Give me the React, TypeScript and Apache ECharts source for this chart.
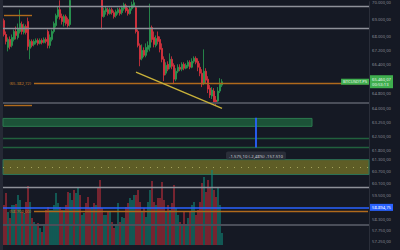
import React, { useEffect, useRef } from "react";
import * as echarts from "echarts";

// ---- data ----
const opens = [
  68915, 68114, 67378, 67830, 67491, 67830, 68285, 67943, 68285, 68686,
  68228, 68571, 68858, 67322, 67717, 67547, 67660, 67773, 67604, 67773,
  67660, 67830, 68285, 67491, 67830, 68285, 68628, 69146, 69551, 69146,
  68800, 69146, 68973, 68686, 70100, 70450, 70300, 70650, 70900, 70700,
  70850, 71150, 70950, 70750, 70600, 70800, 70550, 70700, 70400, 70250,
  69146, 69435, 69551, 69319, 69551, 69377, 69204, 69377, 69551, 69377,
  69610, 69784, 69551, 69319, 69610, 69784, 69668, 68285, 67491, 66762,
  67209, 66929, 67266, 67378, 68513, 67943, 67491, 68000, 67830, 67322,
  66706, 65930, 66428, 66262, 66706, 66373, 65601, 66040, 66262, 66151,
  66428, 66207, 66317, 66539, 66262, 66595, 66762, 66595, 66262, 65930,
  65382, 66040, 65601, 65109, 64675, 64946, 64460, 64406, 64946, 65273,
];
const closes = [
  68114, 67717, 67830, 67434, 67943, 68285, 68057, 68456, 68743, 68285,
  68571, 68228, 67434, 67717, 67491, 67717, 67773, 67604, 67773, 67660,
  67830, 67717, 67491, 67943, 68285, 68743, 69204, 69551, 69088, 68858,
  69146, 68743, 68628, 70100, 70450, 70300, 70650, 70900, 70700, 70850,
  71150, 70950, 70750, 70600, 70800, 70550, 70700, 70400, 70250, 69146,
  69493, 69610, 69319, 69551, 69377, 69146, 69435, 69551, 69319, 69668,
  69843, 69493, 69319, 69610, 69843, 69960, 68285, 67491, 66706, 67209,
  66929, 67378, 67491, 68513, 67830, 67547, 67887, 67717, 67266, 66706,
  65820, 66373, 66151, 66706, 66317, 65601, 66040, 66262, 66151, 66428,
  66207, 66373, 66539, 66262, 66595, 66762, 66539, 66262, 65930, 65327,
  66040, 65546, 65055, 64730, 65001, 64352, 64352, 64946, 65327, 65460.07,
];
const lows = [
  68000, 67547, 67153, 67266, 67378, 67717, 67830, 67830, 68171, 68114,
  68114, 68114, 67209, 66706, 67378, 67434, 67547, 67491, 67547, 67547,
  67604, 67604, 67322, 67322, 67717, 68171, 68513, 69031, 68973, 68686,
  68571, 68628, 68513, 68571, 70060, 70200, 70250, 70550, 70600, 70600,
  70800, 70850, 70650, 70450, 70500, 70400, 70450, 70300, 70100, 68399,
  69088, 69262, 69204, 69262, 69262, 69031, 69088, 69262, 69204, 69262,
  69493, 69377, 69204, 69262, 69493, 69668, 68171, 67378, 66317, 66650,
  66818, 66818, 67097, 67153, 67660, 67378, 67378, 67547, 67097, 66539,
  65491, 65820, 66040, 66151, 66151, 65327, 65491, 65930, 66040, 66040,
  66096, 66151, 66207, 66151, 66207, 66484, 66428, 66040, 65765, 65164,
  65273, 65382, 64838, 64568, 64514, 64191, 64191, 64299, 64838, 65164,
];
const highs = [
  69031, 68285, 67943, 68000, 68114, 68399, 68571, 68743, 69551, 68858,
  68743, 68686, 69088, 67830, 67830, 67830, 67887, 67887, 67887, 67887,
  67943, 67943, 68399, 68114, 68399, 68858, 69319, 69726, 70100, 69319,
  69262, 69262, 69088, 70300, 70600, 70700, 70800, 71100, 71050, 71000,
  71300, 71250, 71050, 70850, 70950, 70900, 70850, 70800, 70500, 70400,
  69668, 69726, 69668, 69668, 69668, 69493, 69551, 69668, 69668, 69784,
  69960, 69901, 69668, 69726, 70018, 70194, 69784, 68399, 67604, 67547,
  67378, 67604, 67717, 69901, 68628, 68285, 68057, 68285, 68000, 67604,
  66873, 66539, 66595, 67041, 66873, 66484, 66207, 66428, 66428, 66539,
  66539, 66484, 66650, 66650, 66762, 66873, 66873, 66762, 66484, 66151,
  67266, 66207, 65765, 65273, 65164, 65109, 64675, 65164, 65656, 65601,
];
const volumes = [
  40, 52, 33, 27, 40, 40, 41, 50, 45, 33,
  32, 43, 59, 43, 27, 23, 20, 22, 17, 13,
  20, 35, 38, 35, 35, 40, 52, 42, 38, 35,
  35, 40, 53, 52, 45, 55, 52, 57, 50, 30,
  32, 42, 48, 37, 38, 42, 40, 58, 65, 37,
  30, 30, 33, 33, 23, 17, 20, 42, 23, 28,
  27, 38, 42, 47, 45, 50, 50, 55, 43, 33,
  37, 28, 43, 55, 64, 43, 40, 47, 47, 63,
  45, 33, 40, 35, 42, 60, 37, 30, 23, 20,
  33, 20, 27, 33, 40, 43, 30, 35, 43, 62,
  68, 53, 65, 58, 75, 55, 48, 58, 40, 12,
];
const priceTicks = [
  70000, 69000, 68000, 67200, 66400, 65600, 64800, 64000, 63250, 62500,
  61800, 61300, 60700, 60100, 59500, 58300, 57750, 57250,
];
const TOTAL_SLOTS = 183;
const symbolName = "BTCUSDT.PS";
const lastPrice = 65460.07;
const countdown = "00:53:13";
const blueLevel = 58894.75;
const brightGrayLevels = [69755, 68455, 59889];
const dimGrayLevels = [64300, 58045];
const greenLevels = [62444, 61975];
const orangeRayLevels = [65382.72, 58700];
const orangeShortLevels = [69250, 64190];
const greenZone = [63470, 63048];
const oliveZone = [61307, 60544];
const measureFrom = 63510.0;
const measureTo = 61934.9;
const measureTicks = -157510;
const measureSlot = 126;
const greenZoneEndSlot = 154;
const orangeRayStartSlot = 15;
const trendStart = [66, 65985];
const trendEnd = [109, 64010];

const UP = "#2a9d52";
const DOWN = "#e0343f";

function fmt(v: number, d = 2): string {
  const neg = v < 0;
  const parts = Math.abs(v).toFixed(d).split(".");
  const ip = parts[0].replace(/\B(?=(\d{3})+(?!\d))/g, ".");
  return (neg ? "-" : "") + ip + (d > 0 ? "," + parts[1] : "");
}

export default function App() {
  const ref = useRef<HTMLDivElement>(null);
  useEffect(() => {
    const chart = echarts.init(ref.current!, null, { renderer: "svg" });
    const cats = Array.from({ length: TOTAL_SLOTS }, (_, i) => "c" + i);
    const candles = opens.map((o, i) => [o, closes[i], lows[i], highs[i]]);
    const vol = volumes.map((v, i) => ({
      value: v,
      itemStyle: { color: closes[i] >= opens[i] ? "rgba(16,130,115,0.72)" : "rgba(190,45,58,0.68)" },
    }));
    const font = "Noto Sans";
    const hLine = (v: number, color: string, width: number) => ({
      yAxis: v,
      lineStyle: { color, width, type: "solid" },
    });
    const mlData: any[] = [];
    brightGrayLevels.forEach((v) => mlData.push(hLine(v, "#8e9199", 1.4)));
    dimGrayLevels.forEach((v) => mlData.push(hLine(v, "#4a4e59", 1.8)));
    greenLevels.forEach((v) => mlData.push(hLine(v, "#21603d", 1.3)));
    mlData.push({
      yAxis: (oliveZone[0] + oliveZone[1]) / 2,
      lineStyle: { color: "#a5a45c", width: 1, type: [1, 6] },
    });
    orangeShortLevels.forEach((v) =>
      mlData.push([
        { xAxis: 0, yAxis: v, lineStyle: { color: "#b06a1c", width: 1.4, type: "solid" } },
        { xAxis: orangeRayStartSlot - 1, yAxis: v },
      ])
    );
    orangeRayLevels.forEach((v) =>
      mlData.push([
        {
          xAxis: orangeRayStartSlot,
          yAxis: v,
          lineStyle: { color: "#b06a1c", width: 1.4, type: "solid" },
          label: {
            show: true,
            position: "start",
            distance: 3,
            formatter: "(" + fmt(v) + ")",
            color: "#c07a24",
            fontSize: 4.2,
            fontFamily: font,
          },
        },
        { xAxis: TOTAL_SLOTS - 1, yAxis: v },
      ])
    );
    mlData.push({
      yAxis: blueLevel,
      lineStyle: { color: "#2962ff", width: 1.5, type: "solid" },
      label: {
        show: true,
        position: "end",
        distance: 1,
        formatter: fmt(blueLevel),
        color: "#ffffff",
        backgroundColor: "#2962ff",
        padding: [1.5, 2],
        fontSize: 4.2,
        fontFamily: font,
      },
    });
    mlData.push({
      yAxis: lastPrice,
      lineStyle: { color: "rgba(0,0,0,0)", width: 0 },
      label: {
        show: true,
        position: "end",
        distance: 1,
        formatter: fmt(lastPrice) + "\n" + countdown,
        color: "#e8f5e9",
        backgroundColor: "#3fae4e",
        padding: [1.5, 2],
        lineHeight: 5,
        fontSize: 4.2,
        fontFamily: font,
      },
    });
    mlData.push({
      yAxis: lastPrice,
      lineStyle: { color: "rgba(0,0,0,0)", width: 0 },
      label: {
        show: true,
        position: "end",
        distance: 0,
        align: "right",
        formatter: symbolName,
        color: "#e8f5e9",
        backgroundColor: "#3fae4e",
        padding: [1, 2],
        fontSize: 4.2,
        fontFamily: font,
      },
    });
    mlData.push([
      { coord: trendStart, lineStyle: { color: "#c8b13a", width: 1.4, type: "solid" } },
      { coord: trendEnd },
    ]);
    mlData.push([
      {
        xAxis: measureSlot,
        yAxis: measureFrom,
        lineStyle: { color: "#2962ff", width: 1.8, type: "solid" },
        label: {
          show: true,
          position: "end",
          distance: 4,
          formatter:
            fmt(measureTo - measureFrom) +
            " (" +
            fmt(((measureTo - measureFrom) / measureFrom) * 100) +
            "%) " +
            fmt(measureTicks, 0),
          color: "#c9ccd4",
          backgroundColor: "#2a2e39",
          borderRadius: 2,
          padding: [2, 3],
          fontSize: 4.3,
          fontFamily: font,
        },
      },
      { xAxis: measureSlot, yAxis: measureTo },
    ]);

    const option: any = {
      animation: false,
      backgroundColor: "#151924",
      grid: [
        { left: 3, right: 31, top: 0, bottom: 0 },
        { left: 3, right: 31, top: 150, height: 95 },
      ],
      xAxis: [
        { type: "category", data: cats, gridIndex: 0, show: false, boundaryGap: true },
        { type: "category", data: cats, gridIndex: 1, show: false, boundaryGap: true },
      ],
      yAxis: [
        {
          type: "log",
          gridIndex: 0,
          min: 56820,
          max: 70018,
          position: "right",
          axisLine: { show: true, lineStyle: { color: "#2a2e39", width: 1 } },
          axisTick: { show: false },
          splitLine: { show: false },
          axisLabel: {
            customValues: priceTicks,
            formatter: (v: number) => fmt(v),
            color: "#878a93",
            fontSize: 4.2,
            margin: 3,
            fontFamily: font,
          },
        },
        { type: "value", gridIndex: 1, min: 0, max: 95, show: false },
      ],
      graphic: [
        { type: "rect", left: 0, top: 0, shape: { width: 3, height: 250 }, style: { fill: "#252935" } },
      ],
      series: [
        {
          type: "bar",
          xAxisIndex: 1,
          yAxisIndex: 1,
          data: vol,
          barWidth: "85%",
          silent: true,
        },
        {
          type: "candlestick",
          xAxisIndex: 0,
          yAxisIndex: 0,
          data: candles,
          barWidth: 1.6,
          itemStyle: {
            color: UP,
            color0: DOWN,
            borderColor: UP,
            borderColor0: DOWN,
            borderWidth: 0.8,
          },
          markArea: {
            silent: true,
            data: [
              [
                {
                  yAxis: greenZone[0],
                  itemStyle: { color: "#1c5338", borderColor: "#2b7a4f", borderWidth: 1 },
                },
                { xAxis: greenZoneEndSlot, yAxis: greenZone[1] },
              ],
              [
                {
                  yAxis: oliveZone[0],
                  itemStyle: { color: "#5e5d26", borderColor: "#2c7257", borderWidth: 1 },
                },
                { yAxis: oliveZone[1] },
              ],
            ],
          },
          markLine: {
            silent: true,
            symbol: ["none", "none"],
            label: { show: false },
            data: mlData,
          },
        },
      ],
    };
    chart.setOption(option);
    return () => chart.dispose();
  }, []);
  return (
    <div
      ref={ref}
      style={{ position: "fixed", left: 0, top: 0, width: 400, height: 250 }}
    />
  );
}
